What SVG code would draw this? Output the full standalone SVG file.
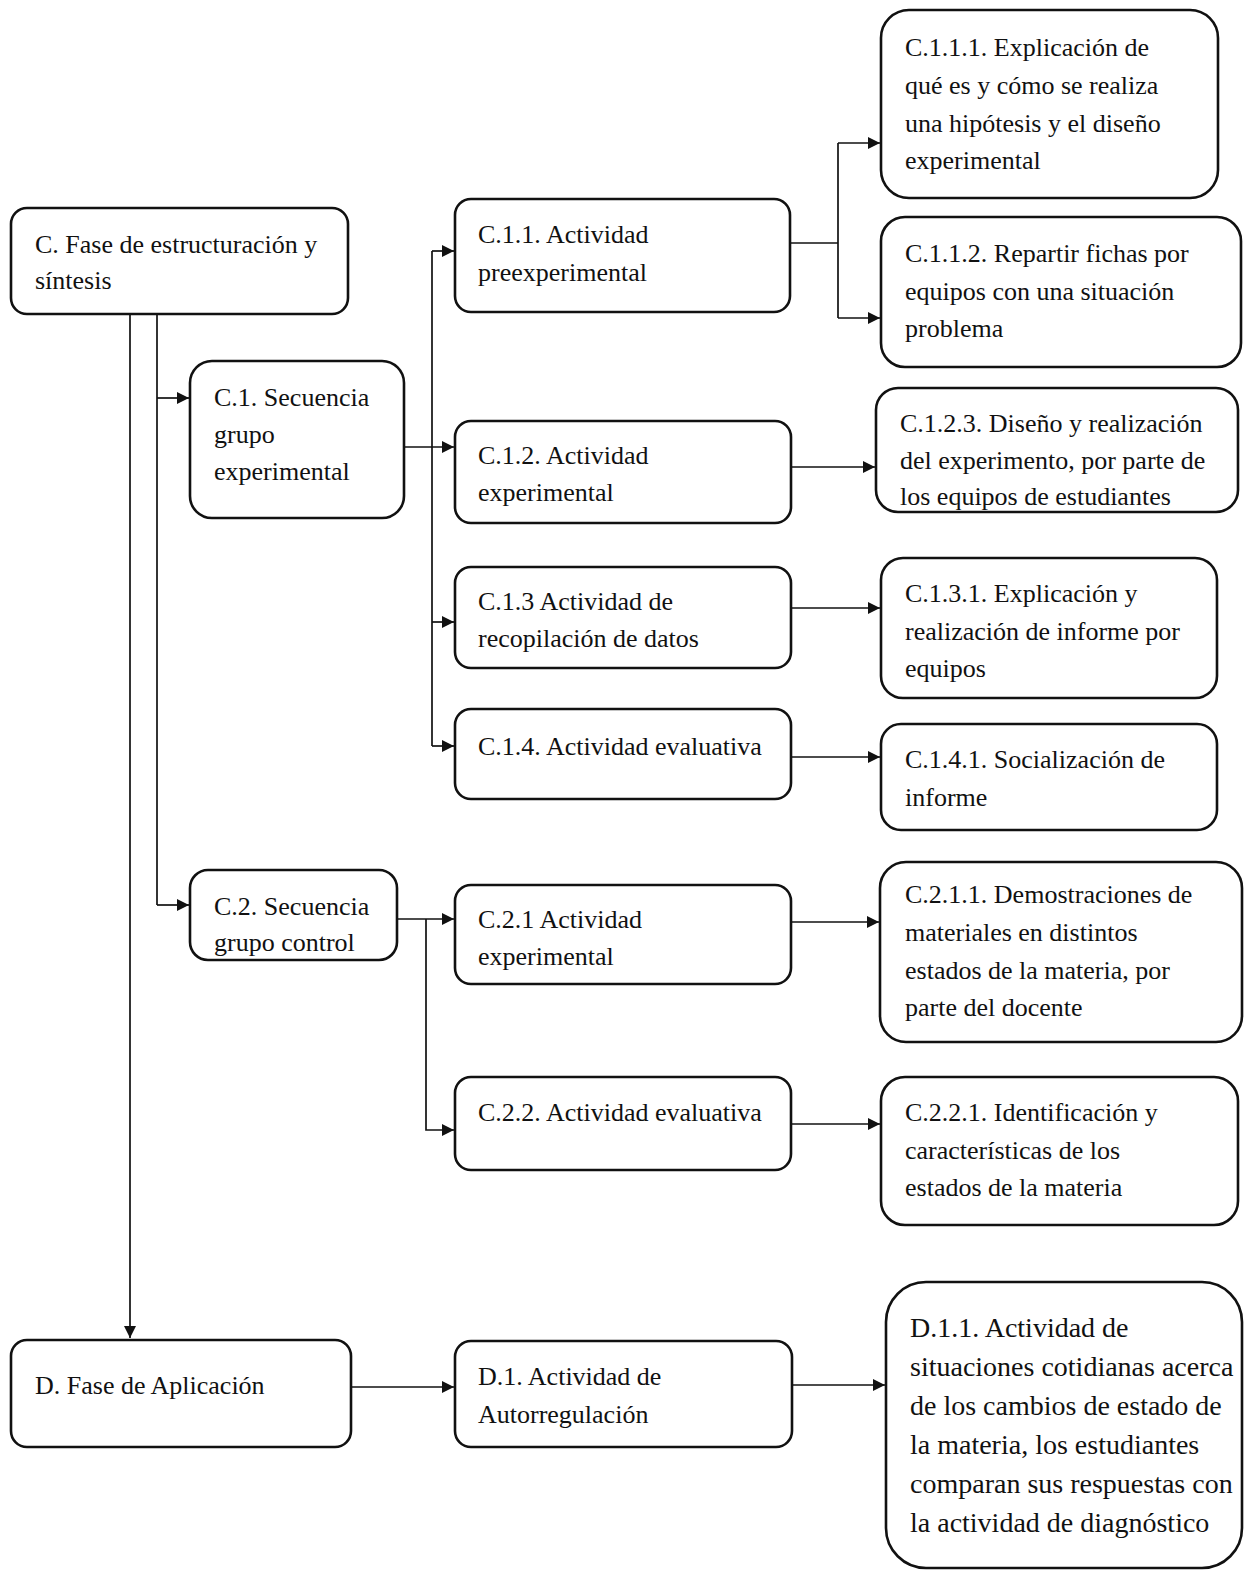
<svg xmlns="http://www.w3.org/2000/svg" width="1246" height="1572" viewBox="0 0 1246 1572">
<defs>
<marker id="ah" viewBox="0 0 10 10" refX="10" refY="5" markerWidth="13" markerHeight="12" markerUnits="userSpaceOnUse" orient="auto">
<path d="M0,0 L10,5 L0,10 Z" fill="#111"/>
</marker>
<style>
.box{fill:#fff;stroke:#111;stroke-width:2.6}
.t{font-family:"Liberation Serif","Times New Roman",serif;font-size:26px;fill:#111}
.tb{font-family:"Liberation Serif","Times New Roman",serif;font-size:28px;fill:#111}
.c{fill:none;stroke:#111;stroke-width:1.7}
</style>
</defs>
<rect width="1246" height="1572" fill="#fff"/>
<g id="connectors">
<path class="c" d="M130,315 V1338" marker-end="url(#ah)"/>
<path class="c" d="M157,315 V905"/>
<path class="c" d="M157,398 H189" marker-end="url(#ah)"/>
<path class="c" d="M157,905 H189" marker-end="url(#ah)"/>
<path class="c" d="M405,447 H454" marker-end="url(#ah)"/>
<path class="c" d="M432,251 V746"/>
<path class="c" d="M432,251 H454" marker-end="url(#ah)"/>
<path class="c" d="M432,622 H454" marker-end="url(#ah)"/>
<path class="c" d="M432,746 H454" marker-end="url(#ah)"/>
<path class="c" d="M791,243 H838"/>
<path class="c" d="M838,143 V318"/>
<path class="c" d="M838,143 H880" marker-end="url(#ah)"/>
<path class="c" d="M838,318 H880" marker-end="url(#ah)"/>
<path class="c" d="M791,467 H875" marker-end="url(#ah)"/>
<path class="c" d="M791,608 H880" marker-end="url(#ah)"/>
<path class="c" d="M791,757 H880" marker-end="url(#ah)"/>
<path class="c" d="M397,919 H454" marker-end="url(#ah)"/>
<path class="c" d="M426,919 V1130 H454" marker-end="url(#ah)"/>
<path class="c" d="M791,922 H879" marker-end="url(#ah)"/>
<path class="c" d="M791,1124 H880" marker-end="url(#ah)"/>
<path class="c" d="M351,1387 H454" marker-end="url(#ah)"/>
<path class="c" d="M792,1385 H885" marker-end="url(#ah)"/>
</g>
<g id="nC"><rect class="box" x="11" y="208" width="337" height="106" rx="16"/>
<text class="t" x="35" y="253">C. Fase de estructuración y</text><text class="t" x="35" y="289">síntesis</text></g>
<g id="nC1"><rect class="box" x="190" y="361" width="214" height="157" rx="22"/>
<text class="t" x="214" y="406">C.1. Secuencia</text><text class="t" x="214" y="443">grupo</text><text class="t" x="214" y="480">experimental</text></g>
<g id="nC11"><rect class="box" x="455" y="199" width="335" height="113" rx="16"/>
<text class="t" x="478" y="243">C.1.1. Actividad</text><text class="t" x="478" y="281">preexperimental</text></g>
<g id="nC12"><rect class="box" x="455" y="421" width="336" height="102" rx="16"/>
<text class="t" x="478" y="464">C.1.2. Actividad</text><text class="t" x="478" y="501">experimental</text></g>
<g id="nC13"><rect class="box" x="455" y="567" width="336" height="101" rx="16"/>
<text class="t" x="478" y="610">C.1.3 Actividad de</text><text class="t" x="478" y="647">recopilación de datos</text></g>
<g id="nC14"><rect class="box" x="455" y="709" width="336" height="90" rx="16"/>
<text class="t" x="478" y="755">C.1.4. Actividad evaluativa</text></g>
<g id="nC2"><rect class="box" x="190" y="870" width="207" height="90" rx="18"/>
<text class="t" x="214" y="915">C.2. Secuencia</text><text class="t" x="214" y="951">grupo control</text></g>
<g id="nC21"><rect class="box" x="455" y="885" width="336" height="99" rx="16"/>
<text class="t" x="478" y="928">C.2.1 Actividad</text><text class="t" x="478" y="965">experimental</text></g>
<g id="nC22"><rect class="box" x="455" y="1077" width="336" height="93" rx="16"/>
<text class="t" x="478" y="1121">C.2.2. Actividad evaluativa</text></g>
<g id="nC111"><rect class="box" x="881" y="10" width="337" height="188" rx="28"/>
<text class="t" x="905" y="56">C.1.1.1. Explicación de</text><text class="t" x="905" y="94">qué es y cómo se realiza</text><text class="t" x="905" y="132">una hipótesis y el diseño</text><text class="t" x="905" y="169">experimental</text></g>
<g id="nC112"><rect class="box" x="881" y="217" width="360" height="150" rx="24"/>
<text class="t" x="905" y="262">C.1.1.2. Repartir fichas por</text><text class="t" x="905" y="300">equipos con una situación</text><text class="t" x="905" y="337">problema</text></g>
<g id="nC123"><rect class="box" x="876" y="388" width="362" height="124" rx="22"/>
<text class="t" x="900" y="432">C.1.2.3. Diseño y realización</text><text class="t" x="900" y="469">del experimento, por parte de</text><text class="t" x="900" y="505">los equipos de estudiantes</text></g>
<g id="nC131"><rect class="box" x="881" y="558" width="336" height="140" rx="22"/>
<text class="t" x="905" y="602">C.1.3.1. Explicación y</text><text class="t" x="905" y="640">realización de informe por</text><text class="t" x="905" y="677">equipos</text></g>
<g id="nC141"><rect class="box" x="881" y="724" width="336" height="106" rx="20"/>
<text class="t" x="905" y="768">C.1.4.1. Socialización de</text><text class="t" x="905" y="806">informe</text></g>
<g id="nC211"><rect class="box" x="880" y="862" width="362" height="180" rx="26"/>
<text class="t" x="905" y="903">C.2.1.1. Demostraciones de</text><text class="t" x="905" y="941">materiales en distintos</text><text class="t" x="905" y="979">estados de la materia, por</text><text class="t" x="905" y="1016">parte del docente</text></g>
<g id="nC221"><rect class="box" x="881" y="1077" width="357" height="148" rx="24"/>
<text class="t" x="905" y="1121">C.2.2.1. Identificación y</text><text class="t" x="905" y="1159">características de los</text><text class="t" x="905" y="1196">estados de la materia</text></g>
<g id="nD"><rect class="box" x="11" y="1340" width="340" height="107" rx="16"/>
<text class="t" x="35" y="1394">D. Fase de Aplicación</text></g>
<g id="nD1"><rect class="box" x="455" y="1341" width="337" height="106" rx="16"/>
<text class="t" x="478" y="1385">D.1. Actividad de</text><text class="t" x="478" y="1423">Autorregulación</text></g>
<g id="nD11"><rect class="box" x="886" y="1282" width="356" height="286" rx="40"/>
<text class="tb" x="910" y="1337">D.1.1. Actividad de</text><text class="tb" x="910" y="1376">situaciones cotidianas acerca</text><text class="tb" x="910" y="1415">de los cambios de estado de</text><text class="tb" x="910" y="1454">la materia, los estudiantes</text><text class="tb" x="910" y="1493">comparan sus respuestas con</text><text class="tb" x="910" y="1532">la actividad de diagnóstico</text></g>
</svg>
